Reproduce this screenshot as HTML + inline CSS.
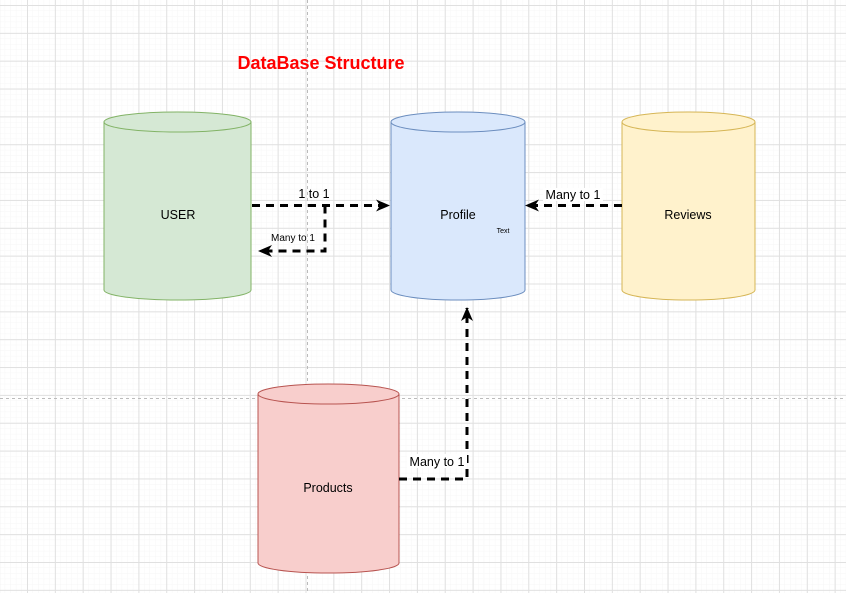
<!DOCTYPE html>
<html><head><style>
html,body{margin:0;padding:0;background:#fff;}
svg{display:block;font-family:"Liberation Sans",Arial,sans-serif;}
</style></head><body>
<svg width="846" height="593" viewBox="0 0 846 593" xmlns="http://www.w3.org/2000/svg">
<defs>
<pattern id="minor" x="27" y="5" width="5.57" height="5.57" patternUnits="userSpaceOnUse">
<path d="M0 0H5.57M0 0V5.57" stroke="#f6f6f6" stroke-width="1" fill="none"/>
</pattern>
<pattern id="major" x="27" y="5" width="27.85" height="27.85" patternUnits="userSpaceOnUse">
<path d="M0 0.5H27.85M0.5 0V27.85" stroke="#e0e0e0" stroke-width="1" fill="none"/>
</pattern>
<marker id="ar" markerWidth="14" markerHeight="14" refX="13" refY="7" orient="auto" markerUnits="userSpaceOnUse">
<path d="M0 1 L14 7 L0 13 L4 7 Z" fill="#000"/>
</marker>
</defs>
<rect width="846" height="593" fill="url(#minor)"/>
<rect width="846" height="593" fill="url(#major)"/>
<line x1="307.5" y1="0" x2="307.5" y2="593" stroke="#bbb" stroke-dasharray="3,3"/>
<line x1="0" y1="398.5" x2="846" y2="398.5" stroke="#bbb" stroke-dasharray="3,3"/>

<text x="321" y="69" font-size="18" font-weight="bold" fill="#ff0000" text-anchor="middle">DataBase Structure</text>

<path d="M104 122 A73.5 10 0 0 1 251 122 V290 A73.5 10 0 0 1 104 290 Z" fill="#d5e8d4" stroke="#82b366"/>
<path d="M104 122 A73.5 10 0 0 0 251 122" fill="none" stroke="#82b366"/>
<text x="178" y="219" font-size="12.5" text-anchor="middle">USER</text>

<path d="M391 122 A67 10 0 0 1 525 122 V290 A67 10 0 0 1 391 290 Z" fill="#dae8fc" stroke="#6c8ebf"/>
<path d="M391 122 A67 10 0 0 0 525 122" fill="none" stroke="#6c8ebf"/>
<text x="458" y="219" font-size="12.5" text-anchor="middle">Profile</text>
<text x="503" y="233" font-size="7" text-anchor="middle">Text</text>

<path d="M622 122 A66.5 10 0 0 1 755 122 V290 A66.5 10 0 0 1 622 290 Z" fill="#fff2cc" stroke="#d6b656"/>
<path d="M622 122 A66.5 10 0 0 0 755 122" fill="none" stroke="#d6b656"/>
<text x="688" y="219" font-size="12.5" text-anchor="middle">Reviews</text>

<path d="M258 394 A70.5 10 0 0 1 399 394 V563 A70.5 10 0 0 1 258 563 Z" fill="#f8cecc" stroke="#b85450"/>
<path d="M258 394 A70.5 10 0 0 0 399 394" fill="none" stroke="#b85450"/>
<text x="328" y="492" font-size="12.5" text-anchor="middle">Products</text>

<g stroke="#000" stroke-width="3" fill="none" stroke-dasharray="8,6">
<path d="M252 205.5 H389" marker-end="url(#ar)"/>
<path d="M325 205.5 V251 H259" marker-end="url(#ar)"/>
<path d="M622 205.5 H526" marker-end="url(#ar)"/>
<path d="M399 479 H467 V308" marker-end="url(#ar)"/>
</g>
<text x="314" y="198" font-size="12.5" text-anchor="middle">1 to 1</text>
<text x="293" y="241" font-size="10" text-anchor="middle">Many to 1</text>
<rect x="543" y="188" width="60" height="13" fill="#fff"/>
<text x="573" y="199" font-size="12.5" text-anchor="middle">Many to 1</text>
<rect x="407" y="454" width="60" height="14" fill="#fff"/>
<text x="437" y="466" font-size="12.5" text-anchor="middle">Many to 1</text>
</svg>
</body></html>
